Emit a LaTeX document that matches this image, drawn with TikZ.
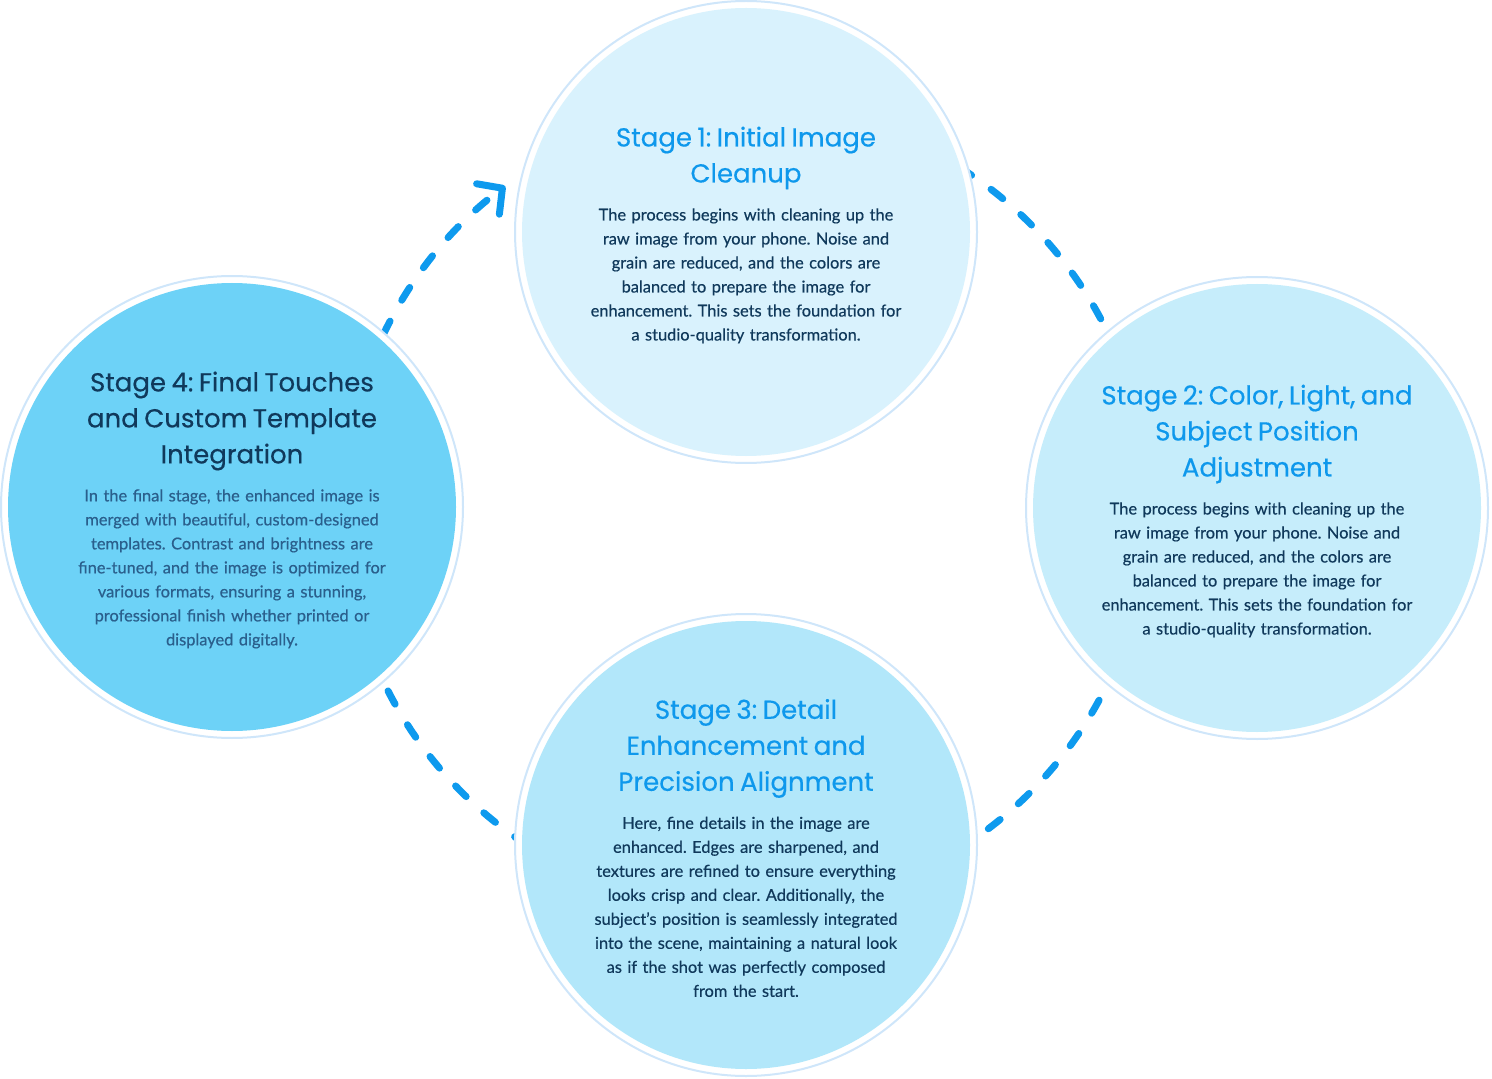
\documentclass[tikz,border=0pt]{standalone}
\usepackage{fontspec}
\setmainfont{Lato}[FakeBold=0.45]
\newfontfamily\headfont{Poppins}[FakeStretch=1.0,FakeBold=0.4]
\usetikzlibrary{positioning,arrows.meta,calc}
\definecolor{fillA}{HTML}{D9F2FD}
\definecolor{fillB}{HTML}{C6EDFB}
\definecolor{fillC}{HTML}{B2E7FA}
\definecolor{fillD}{HTML}{6DD2F7}
\definecolor{ringblue}{HTML}{CFE6FA}
\definecolor{dashblue}{HTML}{0E9AEE}
\definecolor{headblue}{HTML}{0E98EC}
\definecolor{navy}{HTML}{10395B}
\definecolor{softnavy}{HTML}{2A5F8C}
\newcommand{\stagetitle}[2]{{\headfont\fontsize{13}{18}\selectfont\color{#1}#2\par}\vspace{7pt}}
\tikzset{
  ring/.style={draw=ringblue, line width=1pt, fill=white},
  stage/.style={circle, minimum size=224pt, inner sep=0pt},
  blurb/.style={text width=190pt, align=center, inner sep=0pt, yshift=-1.5pt,
    font=\frenchspacing\fontsize{8.2}{12}\selectfont, text=navy},
  flow/.style={draw=dashblue, line width=3.5pt, line cap=round,
    dash pattern=on 7.5pt off 12pt},
  tip/.style={-{Straight Barb[round,length=9pt,width=19pt]}}
}
\begin{document}
\begin{tikzpicture}[x=0.5pt, y=0.5pt]
    \useasboundingbox (0,0) rectangle (1492,1078);
    \coordinate (mid) at (746,570);
    \coordinate (c1) at (746,846);
    \coordinate (c2) at (1257,570);
    \coordinate (c3) at (746,233);
    \coordinate (c4) at (232,571);

    % dashed cycle between the stages
    \coordinate (a41) at ($(mid)+(160:402)$);
    \coordinate (a12) at ($(mid)+(58:402)$);
    \coordinate (a23) at ($(mid)+(-23:402)$);
    \coordinate (a34) at ($(mid)+(-123:402)$);
    \draw[flow, tip] (a41) arc[start angle=160, end angle=126.8, radius=402];
    \draw[flow] (a12) arc[start angle=58, end angle=22, radius=402];
    \draw[flow] (a23) arc[start angle=-23, end angle=-58, radius=402];
    \draw[flow] (a34) arc[start angle=-123, end angle=-158, radius=402];

    \foreach \c in {c1,c2,c3,c4}
      \draw[ring] (\c) circle (231);

    \node[stage, fill=fillA] (s1) at (c1) {};
    \node[stage, fill=fillB] (s2) at (c2) {};
    \node[stage, fill=fillC] (s3) at (c3) {};
    \node[stage, fill=fillD] (s4) at (c4) {};

    \node[blurb] (t1) at (s1) {\stagetitle{headblue}{Stage 1: Initial Image\\Cleanup}
      The process begins with cleaning up the\\raw image from your phone. Noise and\\grain are reduced, and the colors are\\balanced to prepare the image for\\enhancement. This sets the foundation for\\a studio-quality transformation.};
    \node[blurb] (t2) at (s2) {\stagetitle{headblue}{Stage 2: Color, Light, and\\Subject Position\\Adjustment}
      The process begins with cleaning up the\\raw image from your phone. Noise and\\grain are reduced, and the colors are\\balanced to prepare the image for\\enhancement. This sets the foundation for\\a studio-quality transformation.};
    \node[blurb] (t3) at (s3) {\stagetitle{headblue}{Stage 3: Detail\\Enhancement and\\Precision Alignment}
      Here, fine details in the image are\\enhanced. Edges are sharpened, and\\textures are refined to ensure everything\\looks crisp and clear. Additionally, the\\subject’s position is seamlessly integrated\\into the scene, maintaining a natural look\\as if the shot was perfectly composed\\from the start.};
    \node[blurb, text=softnavy] (t4) at (s4) {\stagetitle{navy}{Stage 4: Final Touches\\and Custom Template\\Integration}
      In the final stage, the enhanced image is\\merged with beautiful, custom-designed\\templates. Contrast and brightness are\\fine-tuned, and the image is optimized for\\various formats, ensuring a stunning,\\professional finish whether printed or\\displayed digitally.};
\end{tikzpicture}
\end{document}
